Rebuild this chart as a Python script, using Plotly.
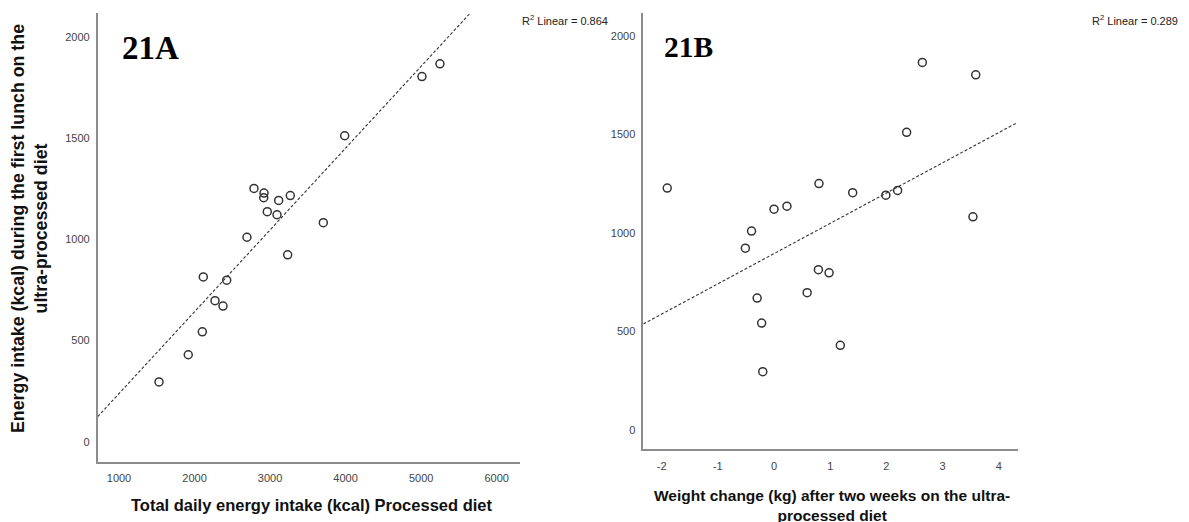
import numpy as np
import plotly.graph_objects as go

W, H = 1189, 522

# Energy intake at the first ultra-processed lunch (kcal), one value per participant
lunch_kcal = [1866, 1803, 1511, 1251, 1228, 1205, 1192, 1216, 1136, 1121,
              1082, 1010, 923, 814, 798, 697, 670, 543, 430, 296]
# Total daily energy intake on the processed diet (kcal)
daily_kcal = [5249, 5011, 3988, 2787, 2920, 2916, 3114, 3268, 2963, 3092,
              3705, 2694, 3233, 2116, 2426, 2271, 2377, 2103, 1917, 1530]
# Weight change after two weeks on the ultra-processed diet (kg)
weight_kg = [2.64, 3.59, 2.36, 0.80, -1.90, 1.40, 1.99, 2.20, 0.23, 0.00,
             3.54, -0.40, -0.51, 0.79, 0.98, 0.59, -0.30, -0.22, 1.18, -0.20]

r2_labels = ["0.864", "0.289"]
panel_labels = ["21A", "21B"]
x_ticks_a = [1000, 2000, 3000, 4000, 5000, 6000]
x_ticks_b = [-2, -1, 0, 1, 2, 3, 4]
x_ticktext_b = ["-2", "-1", "0", "1", "2", "3", "4"]
y_ticks = [0, 500, 1000, 1500, 2000]

xr_a = [718, 6309]
xr_b = [-2.326, 4.333]
yr = [-98, 2117]


def px(x):
    return x / W


def py(y):
    return 1 - y / H


fig = go.Figure()

SANS = "Liberation Sans, Arial, sans-serif"
SERIF = "Liberation Serif, Times New Roman, serif"
INK = "#333333"


def add_panel(xvals, xr, xa, ya):
    x = np.asarray(xvals, dtype=float)
    y = np.asarray(lunch_kcal, dtype=float)
    slope, icpt = np.polyfit(x, y, 1)
    xl = np.array(xr)
    fig.add_trace(go.Scatter(
        x=xl, y=icpt + slope * xl, mode="lines", xaxis=xa, yaxis=ya,
        line=dict(color=INK, width=1.1, dash="3px,2px"),
        hoverinfo="skip", showlegend=False))
    fig.add_trace(go.Scatter(
        x=x, y=y, mode="markers", xaxis=xa, yaxis=ya,
        marker=dict(symbol="circle-open", size=8, color=INK,
                    line=dict(width=1.5, color=INK)),
        showlegend=False))


add_panel(daily_kcal, xr_a, "x", "y")
add_panel(weight_kg, xr_b, "x2", "y2")

axis_common = dict(
    showgrid=False, zeroline=False, showline=True, linecolor="#8c8c8c",
    linewidth=1.6, ticks="", tickfont=dict(family=SANS, size=11, color="#444444"),
)

fig.update_layout(
    width=W, height=H, margin=dict(l=0, r=0, t=0, b=0),
    paper_bgcolor="white", plot_bgcolor="white",
    xaxis=dict(domain=[px(97.7), px(520)], range=xr_a, tickvals=x_ticks_a,
               anchor="y", ticklabelstandoff=5, **axis_common),
    yaxis=dict(domain=[py(461.7), py(13)], range=yr, tickvals=y_ticks,
               anchor="x", ticklabelstandoff=4, **axis_common),
    xaxis2=dict(domain=[px(643.3), px(1017.5)], range=xr_b, tickvals=x_ticks_b,
                ticktext=x_ticktext_b, anchor="y2", ticklabelstandoff=6,
                **axis_common),
    yaxis2=dict(domain=[py(449.3), py(13)], range=yr, tickvals=y_ticks,
                anchor="x2", ticklabelstandoff=4, **axis_common),
)

ann = []
# panel letters
ann.append(dict(x=px(150), y=py(48), text="<b>%s</b>" % panel_labels[0],
                font=dict(family=SERIF, size=33, color="black")))
ann.append(dict(x=px(688), y=py(47), text="<b>%s</b>" % panel_labels[1],
                font=dict(family=SERIF, size=29.5, color="black")))
# fit statistics
ann.append(dict(x=px(520), y=py(20), xanchor="left",
                text="R<sup>2</sup> Linear = %s" % r2_labels[0],
                font=dict(family=SANS, size=11, color="#222222")))
ann.append(dict(x=px(1090), y=py(20), xanchor="left",
                text="R<sup>2</sup> Linear = %s" % r2_labels[1],
                font=dict(family=SANS, size=11, color="#222222")))
# axis titles
ann.append(dict(x=px(30), y=py(229), textangle=-90,
                text="<b>Energy intake (kcal) during the first lunch on the<br>ultra-processed diet</b>",
                font=dict(family=SANS, size=17.8, color="#111111")))
ann.append(dict(x=px(311), y=py(505),
                text="<b>Total daily energy intake (kcal) Processed diet</b>",
                font=dict(family=SANS, size=16.5, color="#111111")))
ann.append(dict(x=px(832), y=py(505),
                text="<b>Weight change (kg) after two weeks on the ultra-<br>processed diet</b>",
                font=dict(family=SANS, size=15.5, color="#111111")))

for a in ann:
    a.update(xref="paper", yref="paper", showarrow=False)
    a.setdefault("xanchor", "center")
    a.setdefault("yanchor", "middle")
fig.update_layout(annotations=ann)

fig.write_html("out.html")
